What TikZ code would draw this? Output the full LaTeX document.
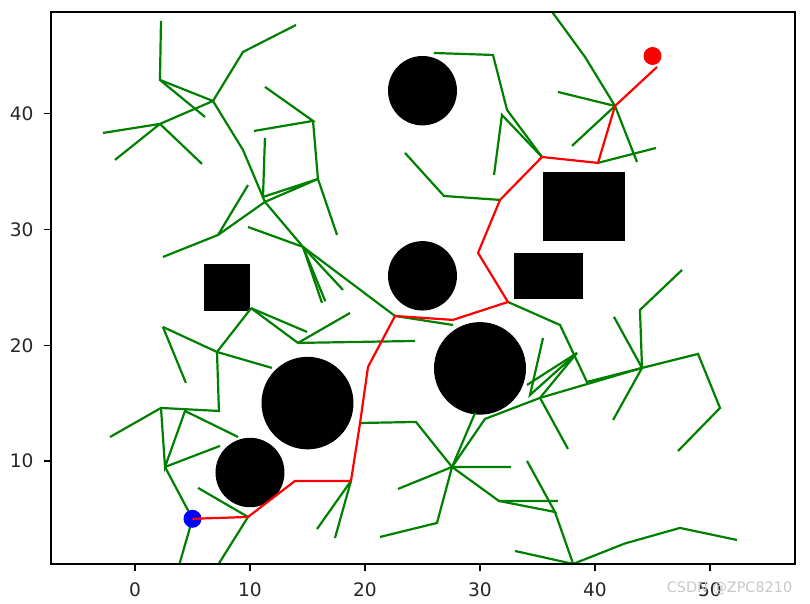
\documentclass[tikz,border=0pt]{standalone}
\usepackage{fontspec}
\setmainfont{DejaVu Sans}
\usepackage{tikz}
\definecolor{treegreen}{RGB}{0,128,0}

\begin{document}
\begin{tikzpicture}[x=5.75pt, y=5.785pt,
    tree/.style={draw=treegreen, line width=1.1pt},
    route/.style={draw=red, line width=1.1pt, line join=round},
    obstacle/.style={fill=black},
    tickmark/.style={line width=0.6pt},
    ticklabel/.style={inner sep=0pt, text=black!85, font=\fontsize{9.3}{11}\selectfont},
    endpoint/.style={circle, inner sep=0pt, minimum size=9pt}]

  \useasboundingbox (-11.739,-2.36) rectangle (58.696,49.84);

  % Obstacles
  \fill[obstacle] (25,42) circle[radius=3];
  \fill[obstacle] (25,26) circle[radius=3];
  \fill[obstacle] (10,9) circle[radius=3];
  \fill[obstacle] (15,15) circle[radius=4];
  \fill[obstacle] (30,18) circle[radius=4];
  \fill[obstacle] (6,23) rectangle (10,27);
  \fill[obstacle] (33,24) rectangle (39,28);
  \fill[obstacle] (35.5,29) rectangle (42.6,35);

  % Tree
  \begin{scope}
    \clip (-7.3,1.1) rectangle (57.39,48.81);
    \draw[tree] (2.26,48.03) -- (2.17,42.93) -- (6.78,41.11);
    \draw[tree] (2.17,42.93) -- (6.09,39.73);
    \draw[tree] (6.78,41.11) -- (9.39,45.35) -- (14.0,47.68);
    \draw[tree] (6.78,41.11) -- (2.17,39.13) -- (-2.78,38.35);
    \draw[tree] (2.17,39.13) -- (-1.74,36.02);
    \draw[tree] (2.17,39.13) -- (5.83,35.67);
    \draw[tree] (6.78,41.11) -- (9.39,36.88) -- (11.30,32.39);
    \draw[tree] (11.30,42.33) -- (15.48,39.39) -- (10.35,38.52);
    \draw[tree] (15.48,39.39) -- (15.91,34.37) -- (17.57,29.53);
    \draw[tree] (11.30,37.92) -- (11.13,32.82) -- (15.91,34.37) -- (11.30,32.39);
    \draw[tree] (9.83,33.85) -- (7.22,29.53);
    \draw[tree] (2.43,27.63) -- (7.22,29.53) -- (11.30,32.39) -- (14.61,28.50);
    \draw[tree] (9.83,30.22) -- (14.61,28.50) -- (22.61,22.53);
    \draw[tree] (14.61,28.50) -- (16.26,23.66);
    \draw[tree] (14.61,28.50) -- (16.55,23.80);
    \draw[tree] (14.61,28.50) -- (18.09,24.78);
    \draw[tree] (10.1,23.2) -- (14.96,21.15);
    \draw[tree] (10.1,23.2) -- (14.17,20.20) -- (24.35,20.37);
    \draw[tree] (14.17,20.20) -- (18.70,22.79);
    \draw[tree] (10.1,23.2) -- (7.13,19.42);
    \draw[tree] (2.43,21.58) -- (7.13,19.42) -- (11.91,18.04);
    \draw[tree] (2.43,21.58) -- (4.43,16.74);
    \draw[tree] (7.13,19.42) -- (7.30,14.32) -- (2.26,14.58) -- (-2.17,12.07);
    \draw[tree] (2.26,14.58) -- (2.61,9.48) -- (4.35,14.32) -- (8.96,12.07);
    \draw[tree] (2.61,9.48) -- (7.39,11.30);
    \draw[tree] (2.61,9.48) -- (5,5) -- (3.55,0);
    \draw[tree] (5.48,7.67) -- (9.83,5.16) -- (6.58,0);
    \draw[tree] (18.78,8.27) -- (15.83,4.12);
    \draw[tree] (18.78,8.27) -- (17.39,3.34);
    \draw[tree] (22.61,22.53) -- (27.65,21.75);
    \draw[tree] (19.57,13.28) -- (24.43,13.37) -- (27.57,9.48) -- (32.70,9.48);
    \draw[tree] (27.57,9.48) -- (22.87,7.58);
    \draw[tree] (27.57,9.48) -- (26.26,4.64) -- (21.30,3.43);
    \draw[tree] (27.57,9.48) -- (29.57,14.15);
    \draw[tree] (27.57,9.48) -- (30.43,13.63) -- (35.22,15.45);
    \draw[tree] (27.57,9.48) -- (31.65,6.54) -- (36.78,6.54);
    \draw[tree] (31.65,6.54) -- (36.52,5.59) -- (34.09,10.0);
    \draw[tree] (36.52,5.59) -- (38.1,1.1) -- (33.04,2.22);
    \draw[tree] (38.1,1.1) -- (42.61,2.87) -- (47.39,4.21) -- (52.35,3.17);
    \draw[tree] (35.22,15.45) -- (37.65,11.04);
    \draw[tree] (35.22,15.45) -- (44.09,18.04) -- (48.96,19.25) -- (50.87,14.58) -- (47.22,10.86);
    \draw[tree] (44.09,18.04) -- (43.91,23.05) -- (47.57,26.51);
    \draw[tree] (44.09,18.04) -- (41.65,22.45);
    \draw[tree] (44.09,18.04) -- (41.57,13.54);
    \draw[tree] (32.43,23.74) -- (36.96,21.75) -- (39.30,16.83) -- (44.09,18.04);
    \draw[tree] (35.48,20.63) -- (34.35,15.70) -- (38.43,19.33) -- (35.22,15.45);
    \draw[tree] (34.09,16.57) -- (38.43,19.33);
    \draw[tree] (26.0,45.26) -- (31.13,45.09) -- (32.35,40.34) -- (35.39,36.27);
    \draw[tree] (31.22,34.72) -- (31.91,39.90) -- (35.39,36.27);
    \draw[tree] (23.48,36.62) -- (26.87,32.90) -- (31.74,32.56);
    \draw[tree] (35.4,50) -- (39.13,44.92) -- (41.74,40.68);
    \draw[tree] (36.78,41.89) -- (41.74,40.68) -- (43.65,35.84);
    \draw[tree] (38.0,37.23) -- (41.74,40.68);
    \draw[tree] (40.26,35.76) -- (45.30,37.05);
  \end{scope}

  % Start, goal and path
  \node[endpoint, fill=blue] (start) at (5,5) {};
  \node[endpoint, fill=red]  (goal)  at (45,45) {};
  \draw[route] (start.center) -- (9.83,5.16) -- (13.91,8.27) -- (18.78,8.27)
    -- (19.57,13.28) -- (20.26,18.12) -- (22.61,22.53) -- (27.65,22.19)
    -- (32.43,23.74) -- (29.83,27.98) -- (31.74,32.56) -- (35.39,36.27)
    -- (40.26,35.76) -- (41.74,40.68) -- (45.39,44.05);

  % Axes
  \draw[line width=0.6pt] (-7.3,1.1) rectangle (57.39,48.81);
  \foreach \x in {0,10,...,50}
    \draw[tickmark] (\x,1.1) -- ++(0,-3.5pt)
      node[ticklabel, anchor=north, yshift=-5.5pt] {\x};
  \foreach \y in {10,20,30,40}
    \draw[tickmark] (-7.3,\y) -- ++(-3.5pt,0)
      node[ticklabel, anchor=east, xshift=-5pt] {\y};

  \node[text=black!22, font=\fontsize{7.2}{9}\selectfont, inner sep=0pt]
    (mark) at (51.7,-0.98) {CSDN @ZPC8210};

\end{tikzpicture}
\end{document}
